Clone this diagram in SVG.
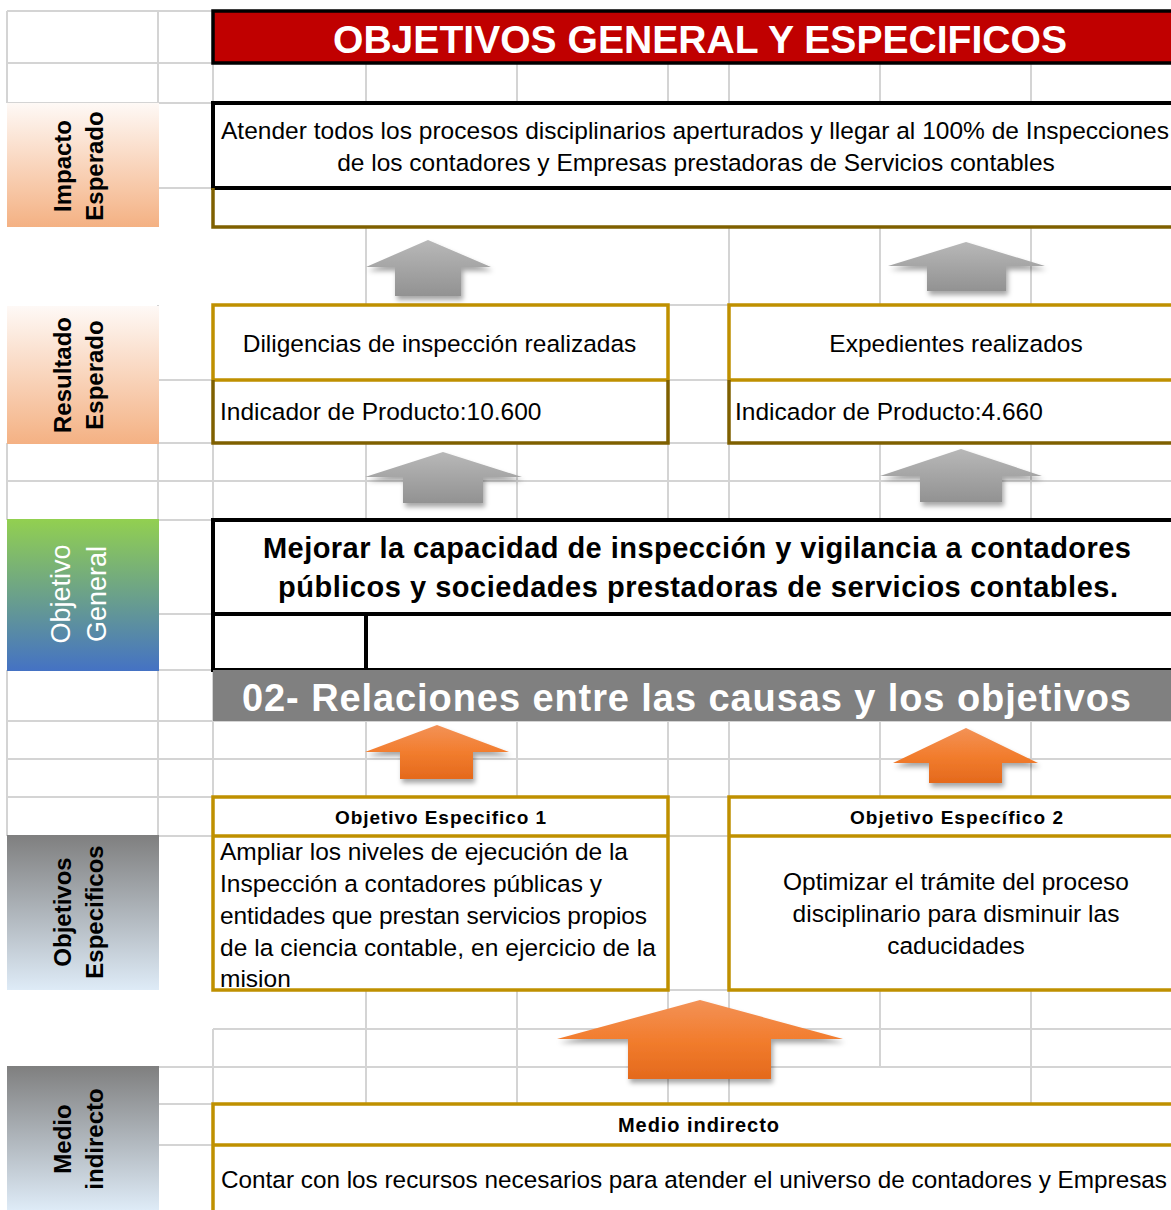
<svg xmlns="http://www.w3.org/2000/svg" width="1171" height="1210" viewBox="0 0 1171 1210">
<style>
.grid{fill:none;stroke:#D4D4D4;stroke-width:2}
.t{font-family:"Liberation Sans",Arial,sans-serif;font-size:24.5px;fill:#000}
.b{font-family:"Liberation Sans",Arial,sans-serif;font-weight:bold;fill:#000}
.lab{font-family:"Liberation Sans",Arial,sans-serif;font-weight:bold;font-size:24px;fill:#000}
.gold{fill:none;stroke:#BF9000;stroke-width:3.5}
.brown{fill:none;stroke:#7F6000;stroke-width:3.5}
.blk{fill:none;stroke:#000;stroke-width:4}
.arrG{fill:url(#gGray);filter:url(#sh)}
.arrO{fill:url(#gOrange);filter:url(#sh)}
</style>
<defs>
<linearGradient id="gPeach" x1="0" y1="0" x2="0" y2="1"><stop offset="0" stop-color="#FEF9F6"/><stop offset="1" stop-color="#F4B183"/></linearGradient>
<linearGradient id="gGreenBlue" x1="0" y1="0" x2="0" y2="1"><stop offset="0" stop-color="#92D050"/><stop offset="1" stop-color="#4472C4"/></linearGradient>
<linearGradient id="gGrayBlue" x1="0" y1="0" x2="0" y2="1"><stop offset="0" stop-color="#7F7F7F"/><stop offset="1" stop-color="#DEEBF7"/></linearGradient>
<linearGradient id="gGray" x1="0" y1="0" x2="0" y2="1"><stop offset="0" stop-color="#B8B8B8"/><stop offset="1" stop-color="#929292"/></linearGradient>
<linearGradient id="gOrange" x1="0" y1="0" x2="0" y2="1"><stop offset="0" stop-color="#F39257"/><stop offset="0.5" stop-color="#F27D2E"/><stop offset="1" stop-color="#E4691C"/></linearGradient>
<filter id="sh" x="-20%" y="-20%" width="150%" height="170%"><feDropShadow dx="2" dy="4" stdDeviation="2.5" flood-color="#000" flood-opacity="0.35"/></filter>
</defs>
<rect width="1171" height="1210" fill="#fff"/>
<g id="grid">
<path class="grid" d="M7 11H213 M7 63H213 M7 103H213 M158 188H213 M668 305H729 M158 380H213 M668 380H729 M7 443H213 M668 443H729 M7 481H1171 M7 520H213 M158 614H213 M7 670H213 M7 721H1171 M7 759H1171 M7 797H213 M668 797H729 M158 836H213 M668 836H729 M668 990H729 M213 1029H1171 M158 1067H1171 M158 1104H213 M158 1145H213
M7 11V103 M7 443V520 M7 670V836
M158 11V227 M158 305V990 M158 1067V1210
M213 11V103 M213 443V520 M213 670V797 M213 1029V1104
M366 63V103 M366 227V305 M366 443V520 M366 721V797 M366 990V1104
M517 63V103 M517 443V520 M517 721V797 M517 990V1104
M668 63V103 M668 443V520 M668 721V797 M668 990V1104
M729 63V103 M729 227V305 M729 443V520 M729 721V797 M729 990V1104
M880 63V103 M880 227V305 M880 443V520 M880 721V797 M880 990V1067
M1031 63V103 M1031 227V305 M1031 443V520 M1031 721V797 M1031 990V1104"/>
</g>
<g id="label-impacto">
<rect x="7" y="103" width="152" height="124" fill="url(#gPeach)"/>
<text class="lab" text-anchor="middle" transform="translate(71,166) rotate(-90)">Impacto</text>
<text class="lab" text-anchor="middle" transform="translate(103,166) rotate(-90)">Esperado</text>
</g>
<g id="label-resultado">
<rect x="7" y="306" width="152" height="138" fill="url(#gPeach)"/>
<text class="lab" text-anchor="middle" transform="translate(71,375) rotate(-90)">Resultado</text>
<text class="lab" text-anchor="middle" transform="translate(103,375) rotate(-90)">Esperado</text>
</g>
<g id="label-objetivo-general">
<rect x="7" y="519" width="152" height="152" fill="url(#gGreenBlue)"/>
<text text-anchor="middle" transform="translate(70,594) rotate(-90)" font-family="Liberation Sans, Arial, sans-serif" font-size="27" fill="#fff">Objetivo</text>
<text text-anchor="middle" transform="translate(106,594) rotate(-90)" font-family="Liberation Sans, Arial, sans-serif" font-size="27" fill="#fff">General</text>
</g>
<g id="label-objetivos-especificos">
<rect x="7" y="835" width="152" height="155" fill="url(#gGrayBlue)"/>
<text class="lab" text-anchor="middle" transform="translate(71,912) rotate(-90)">Objetivos</text>
<text class="lab" text-anchor="middle" transform="translate(103,912) rotate(-90)">Especificos</text>
</g>
<g id="label-medio">
<rect x="7" y="1066" width="152" height="144" fill="url(#gGrayBlue)"/>
<text class="lab" text-anchor="middle" transform="translate(71,1139) rotate(-90)">Medio</text>
<text class="lab" text-anchor="middle" transform="translate(103,1139) rotate(-90)">indirecto</text>
</g>
<g id="header">
<rect x="213" y="11" width="970" height="52" fill="#C00000" stroke="#000" stroke-width="3.5"/>
<text x="700" y="53" text-anchor="middle" class="b" font-size="39" style="fill:#fff" textLength="734" lengthAdjust="spacingAndGlyphs">OBJETIVOS GENERAL Y ESPECIFICOS</text>
</g>
<g id="impacto-box">
<rect x="213" y="103" width="970" height="85" fill="#fff" class="blk"/>
<path class="brown" d="M213 188V227H1180"/>
<text class="t" x="221" y="139" textLength="948" lengthAdjust="spacing">Atender todos los procesos disciplinarios aperturados y llegar al 100% de Inspecciones</text>
<text class="t" x="696" y="171" text-anchor="middle">de los contadores y Empresas prestadoras de Servicios contables</text>
</g>
<g id="resultado-1">
<rect x="213" y="305" width="455" height="138" fill="#fff"/>
<path class="gold" d="M213 380V305H668V380 M213 380H668"/>
<path class="brown" d="M213 380V443H668V380"/>
<text class="t" x="439.5" y="352" text-anchor="middle">Diligencias de inspección realizadas</text>
<text class="t" x="220" y="420">Indicador de Producto:10.600</text>
</g>
<g id="resultado-2">
<rect x="729" y="305" width="460" height="138" fill="#fff"/>
<path class="gold" d="M729 380V305H1185 M729 380H1185"/>
<path class="brown" d="M729 380V443H1185"/>
<text class="t" x="956" y="352" text-anchor="middle">Expedientes realizados</text>
<text class="t" x="735" y="420">Indicador de Producto:4.660</text>
</g>
<g id="objetivo-general">
<rect x="213" y="520" width="970" height="150" fill="#fff" class="blk"/>
<path class="blk" d="M213 614H1180 M366 614V670"/>
<text class="b" x="697" y="558" text-anchor="middle" font-size="29" textLength="868" lengthAdjust="spacing">Mejorar la capacidad de inspección y vigilancia a contadores</text>
<text class="b" x="698" y="597" text-anchor="middle" font-size="29" textLength="840" lengthAdjust="spacing">públicos y sociedades prestadoras de servicios contables.</text>
</g>
<g id="banner">
<rect x="213" y="670" width="970" height="51" fill="#808080"/>
<text class="b" x="686.5" y="711" text-anchor="middle" font-size="38" style="fill:#fff" textLength="889" lengthAdjust="spacing">02- Relaciones entre las causas y los objetivos</text>
</g>
<g id="objetivo-especifico-1">
<rect x="213" y="797" width="455" height="193" fill="#fff" class="gold"/>
<path class="gold" d="M213 836H668"/>
<text class="b" x="440.5" y="824" text-anchor="middle" font-size="19" textLength="211" lengthAdjust="spacing">Objetivo Especifico 1</text>
<text class="t" x="220" y="860" textLength="408" lengthAdjust="spacing">Ampliar los niveles de ejecución de la</text>
<text class="t" x="220" y="892" textLength="382" lengthAdjust="spacing">Inspección a contadores públicas y</text>
<text class="t" x="220" y="924" textLength="427" lengthAdjust="spacing">entidades que prestan servicios propios</text>
<text class="t" x="220" y="956" textLength="436" lengthAdjust="spacing">de la ciencia contable, en ejercicio de la</text>
<text class="t" x="220" y="987">mision</text>
</g>
<g id="objetivo-especifico-2">
<rect x="729" y="797" width="460" height="193" fill="#fff" class="gold"/>
<path class="gold" d="M729 836H1185"/>
<text class="b" x="956.5" y="824" text-anchor="middle" font-size="19" textLength="213" lengthAdjust="spacing">Objetivo Específico 2</text>
<text class="t" x="956" y="890" text-anchor="middle">Optimizar el trámite del proceso</text>
<text class="t" x="956" y="922" text-anchor="middle">disciplinario para disminuir las</text>
<text class="t" x="956" y="954" text-anchor="middle">caducidades</text>
</g>
<g id="medio-indirecto">
<rect x="213" y="1104" width="975" height="120" fill="#fff" class="gold"/>
<path class="gold" d="M213 1145H1185"/>
<text class="b" x="698.5" y="1132" text-anchor="middle" font-size="20" textLength="161" lengthAdjust="spacing">Medio indirecto</text>
<text class="t" x="221" y="1188" textLength="946" lengthAdjust="spacingAndGlyphs">Contar con los recursos necesarios para atender el universo de contadores y Empresas</text>
</g>
<g id="connectors">
<polygon class="arrG" points="428,240 491,267 461,267 461,296 395,296 395,267 366,267"/>
<polygon class="arrG" points="966,242 1045,266 1006,266 1006,291 927,291 927,266 888,266"/>
<polygon class="arrG" points="443,452 522,477 483,477 483,503 403,503 403,477 365,477"/>
<polygon class="arrG" points="961,449 1042,476 1002,476 1002,502 920,502 920,476 880,476"/>
<polygon class="arrO" points="437,725 509,752 473,752 473,779 400,779 400,752 365,752"/>
<polygon class="arrO" points="966,728 1038,763 1002,763 1002,783 929,783 929,763 893,763"/>
<polygon class="arrO" points="700,1000 843,1039 771,1039 771,1079 628,1079 628,1039 557,1039"/>
</g>
</svg>
